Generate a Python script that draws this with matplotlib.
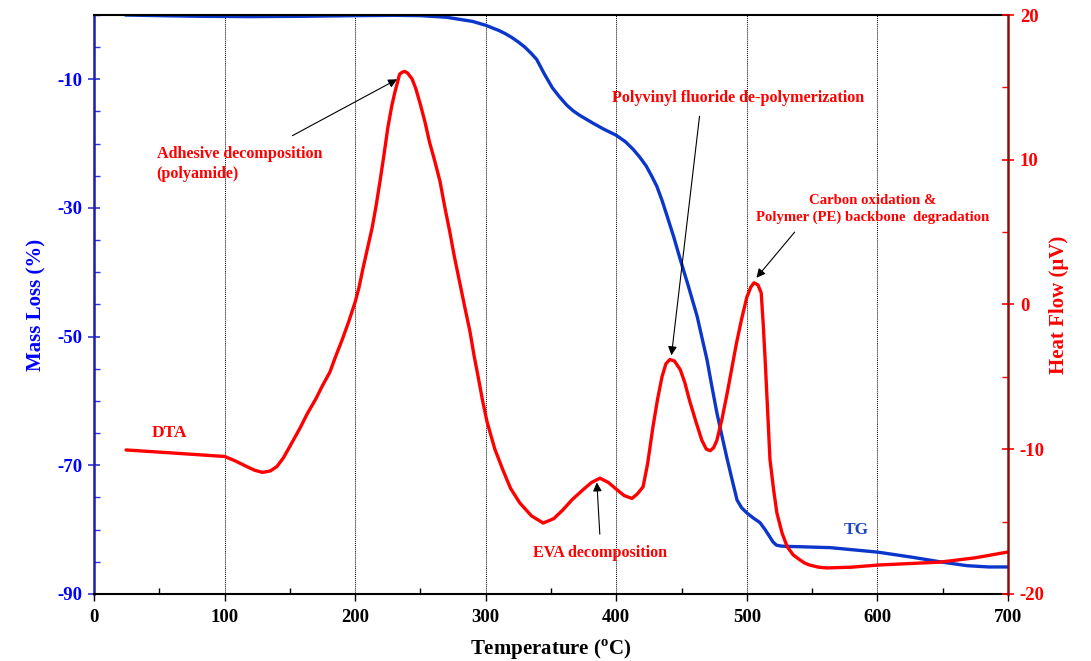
import numpy as np
import matplotlib.pyplot as plt
from matplotlib.ticker import MultipleLocator

plt.rcParams['font.family'] = ['Liberation Serif', 'DejaVu Serif']
plt.rcParams['font.weight'] = 'bold'
plt.rcParams['axes.unicode_minus'] = False

# TG curve: temperature (C) vs mass loss (%)
tg_temp = [24, 50, 80, 120, 160, 200, 230, 250, 270, 290, 300, 305, 310, 315,
           320, 325, 330, 335, 339, 345, 351, 356, 362, 367, 372, 377, 382, 390,
           400, 407, 413, 418, 423, 427, 431, 435, 439, 444, 449, 455, 462, 466,
           469.5, 473, 477, 481, 485, 489, 492.5, 496, 500, 505, 510, 514,
           517.5, 520, 522.6, 526, 530, 540, 548, 564, 600.5, 627, 648, 668.6,
           685, 700]
tg_mass = [0.0, -0.1, -0.2, -0.25, -0.2, -0.1, -0.05, -0.1, -0.35, -1.0, -1.6,
           -2.0, -2.4, -2.9, -3.5, -4.2, -5.0, -6.0, -6.9, -9.2, -11.3, -12.6,
           -14.0, -14.9, -15.6, -16.2, -16.8, -17.7, -18.7, -19.7, -20.9, -22.1,
           -23.5, -25.0, -26.6, -28.8, -31.3, -34.5, -38.0, -42.0, -46.9, -50.5,
           -53.6, -57.5, -61.8, -65.5, -69.1, -72.5, -75.4, -76.6, -77.4, -78.2,
           -78.9, -80.0, -81.1, -81.9, -82.4, -82.55, -82.6, -82.65, -82.7,
           -82.8, -83.5, -84.3, -85.0, -85.6, -85.8, -85.8]

# DTA curve: temperature (C) vs heat flow (uV)
dta_temp = [24.5, 50, 75, 100, 108, 117, 123, 129, 135, 140, 145, 150, 158, 163,
            170, 175, 180.7, 185, 190, 195, 200, 203, 206, 209.5, 213, 216, 219,
            222, 225, 228, 230.5, 232, 234, 236, 238, 240, 243.5, 246.5, 250,
            253.5, 257, 261, 265, 268.5, 272.5, 276, 280, 284, 288, 291, 294,
            297.5, 301, 307, 313, 319, 326, 335, 344, 352, 359, 366, 374.5, 381,
            387.5, 394, 400.5, 406, 412, 416, 420.5, 424, 428, 431.5, 435, 438,
            441, 444.5, 449, 452.5, 456, 461, 465.6, 469, 472, 474.5, 477, 481,
            485, 488.5, 492, 496, 500, 503, 505.5, 508.5, 511, 512.5, 514, 516,
            517.7, 520.5, 523, 527, 531, 535.5, 540.7, 544, 548, 555, 561, 580,
            600.5, 648, 675, 700]
dta_flow = [-10.05, -10.2, -10.35, -10.5, -10.8, -11.2, -11.45, -11.6, -11.5,
            -11.2, -10.6, -9.8, -8.5, -7.6, -6.5, -5.6, -4.66, -3.6, -2.45, -1.2,
            0.17, 1.2, 2.5, 3.9, 5.3, 6.8, 8.5, 10.3, 12.2, 13.7, 14.7, 15.2,
            15.9, 16.05, 16.1, 16.0, 15.6, 14.9, 13.8, 12.6, 11.2, 9.9, 8.5, 6.8,
            5.0, 3.3, 1.55, -0.2, -1.9, -3.5, -4.9, -6.6, -8.1, -10.0, -11.4,
            -12.7, -13.7, -14.6, -15.1, -14.8, -14.2, -13.5, -12.8, -12.3, -12.0,
            -12.3, -12.8, -13.2, -13.4, -13.1, -12.6, -11.0, -8.5, -6.6, -5.0,
            -4.1, -3.8, -3.9, -4.5, -5.4, -6.6, -8.1, -9.4, -10.0, -10.1, -9.9,
            -9.4, -7.9, -6.1, -4.4, -2.7, -1.0, 0.5, 1.2, 1.5, 1.35, 0.8, -1.3,
            -3.8, -7.5, -10.7, -12.8, -14.4, -15.8, -16.75, -17.3, -17.65, -17.85,
            -18.0, -18.15, -18.2, -18.15, -18.0, -17.8, -17.5, -17.1]

x_ticks = [0, 100, 200, 300, 400, 500, 600, 700]
mass_ticks = [-90, -70, -50, -30, -10]
flow_ticks = [-20, -10, 0, 10, 20]

BLUE = '#0a36cc'
RED = '#ff0000'

fig = plt.figure(figsize=(10.91, 6.61), dpi=100)
ax = fig.add_axes([0.0862, 0.1014, 0.8377, 0.8759])
ax2 = ax.twinx()

ax.plot(tg_temp, tg_mass, color=BLUE, lw=2.4, solid_capstyle='round',
        solid_joinstyle='round')
ax2.plot(dta_temp, dta_flow, color=RED, lw=2.4, solid_capstyle='round',
         solid_joinstyle='round')

ax.set_xlim(0, 700)
ax.set_ylim(-90, 0)
ax2.set_ylim(-20, 20)

ax.set_xticks(x_ticks)
ax.xaxis.set_minor_locator(MultipleLocator(50))
ax.set_yticks(mass_ticks)
ax.yaxis.set_minor_locator(MultipleLocator(5))
ax2.set_yticks(flow_ticks)
ax2.yaxis.set_minor_locator(MultipleLocator(5))

ax.grid(axis='x', which='major', color='black', lw=0.7, linestyle=(0, (1, 1)))

# spines
for s in ['top', 'bottom']:
    ax.spines[s].set_color('black')
    ax.spines[s].set_linewidth(1.5)
ax.spines['left'].set_color('#1c1caa')
ax.spines['left'].set_linewidth(1.8)
ax.spines['right'].set_visible(False)
for s in ['top', 'bottom', 'left']:
    ax2.spines[s].set_visible(False)
ax2.spines['right'].set_color('#8b1010')
ax2.spines['right'].set_linewidth(1.8)

ax.tick_params(axis='x', which='major', direction='out', length=5, width=1,
               labelsize=13.5, colors='black', pad=6)
ax.tick_params(axis='x', which='minor', direction='in', length=4, width=1)
ax.tick_params(axis='y', which='major', direction='inout', length=9, width=1.2,
               color='#3333dd', labelcolor='#0000ff', labelsize=13.5, pad=4)
ax.tick_params(axis='y', which='minor', direction='in', length=4, width=1,
               color='#3333dd')
ax2.tick_params(axis='y', which='major', direction='inout', length=9, width=1.2,
                color=RED, labelcolor=RED, labelsize=13.5, pad=4)
ax2.tick_params(axis='y', which='minor', direction='in', length=4, width=1,
                color=RED)

ax.set_xlabel('Temperature ($^{\\mathregular{o}}$C)', fontsize=15,
              fontweight='bold', labelpad=8)
ax.set_ylabel('Mass Loss (%)', fontsize=15, fontweight='bold', color='#0000ff',
              labelpad=8)
ax2.set_ylabel('Heat Flow (\u03bcV)', fontsize=15, fontweight='bold', color=RED,
               labelpad=3)

# annotations on the DTA axis
txt = dict(color=RED, fontsize=11.6, fontweight='bold')
arrow = dict(arrowstyle='-|>', color='black', lw=0.8, mutation_scale=13)

ax2.text(48, 9.7, 'Adhesive decomposition\n(polyamide)', ha='left', va='center',
         linespacing=1.3, **txt)
ax2.annotate('', xy=(234, 15.65), xytext=(150, 11.57), arrowprops=arrow)

ax2.text(493, 14.27, 'Polyvinyl fluoride de-polymerization', ha='center',
         va='center', **txt)
ax2.annotate('', xy=(442, -3.7), xytext=(464, 13.2), arrowprops=arrow)

ax2.text(596, 6.6, 'Carbon oxidation &\nPolymer (PE) backbone  degradation',
         ha='center', va='center', linespacing=1.3,
         color=RED, fontsize=10.6, fontweight='bold')
ax2.annotate('', xy=(506, 1.7), xytext=(538, 5.15), arrowprops=arrow)

ax2.text(387.5, -17.2, 'EVA decomposition', ha='center', va='center', **txt)
ax2.annotate('', xy=(385, -12.1), xytext=(387.5, -16.06), arrowprops=arrow)

ax2.text(58, -8.9, 'DTA', ha='center', va='center', color=RED, fontsize=12.5,
         fontweight='bold')
ax2.text(584, -15.6, 'TG', ha='center', va='center', color='#1a44c0',
         fontsize=12.5, fontweight='bold')

fig.savefig('out.png', dpi=100)
